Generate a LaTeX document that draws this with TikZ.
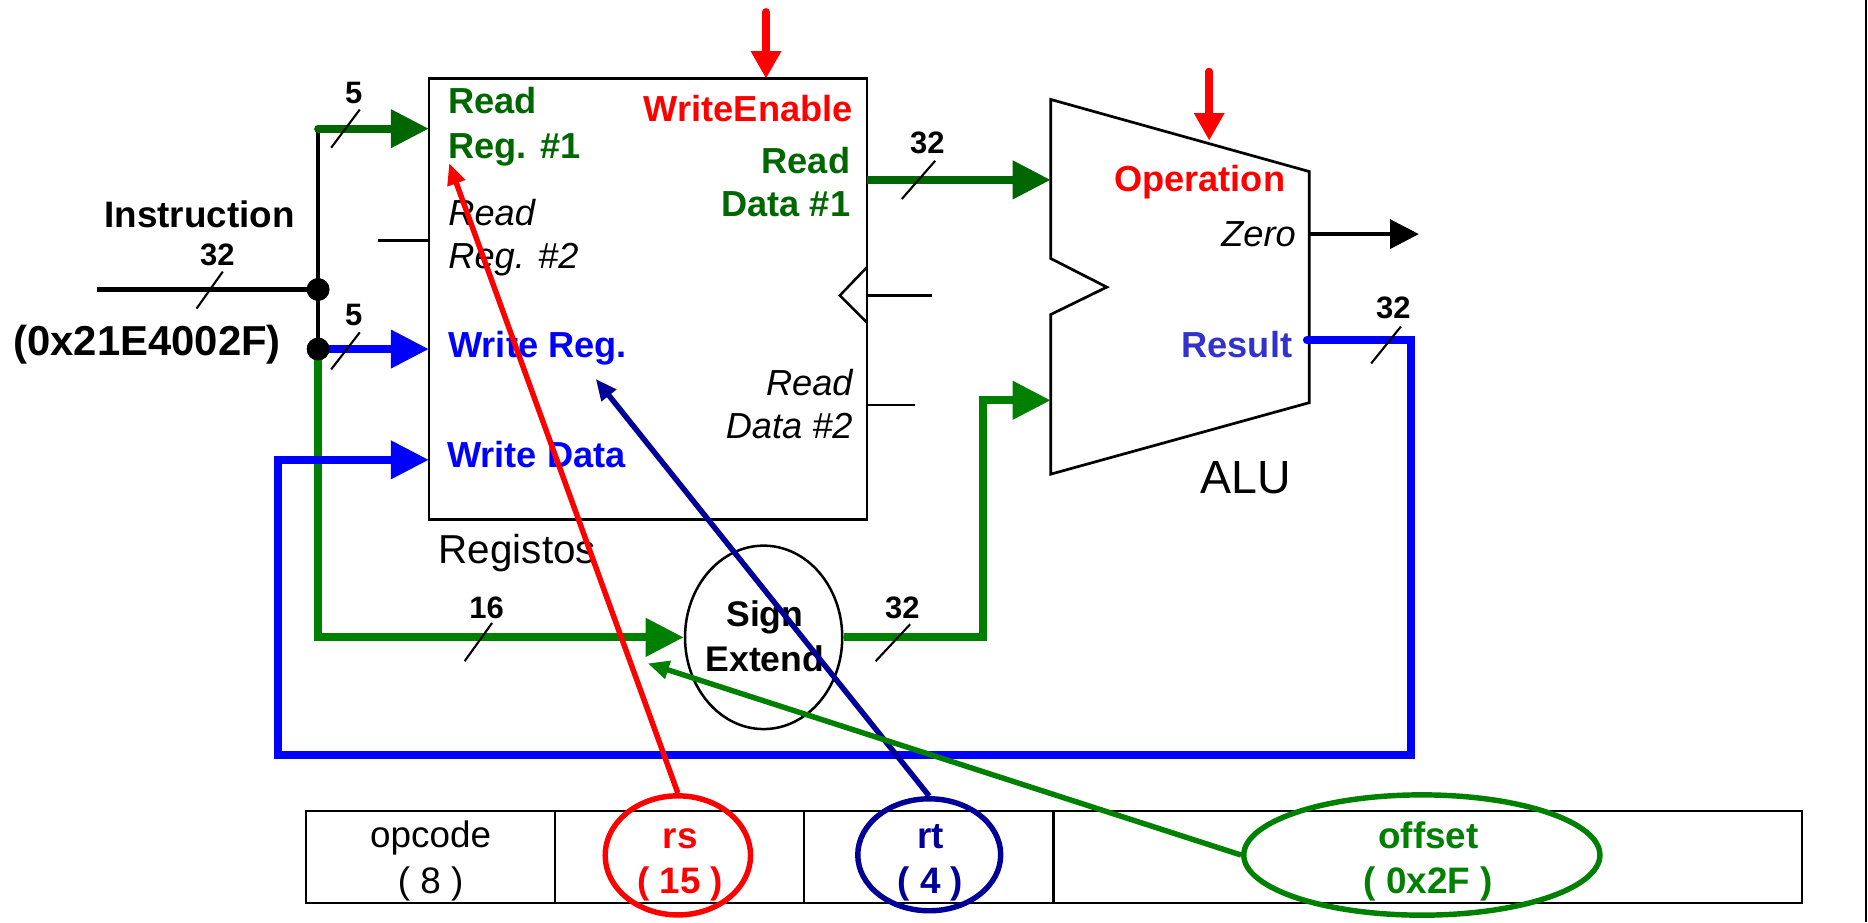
\documentclass[tikz,border=0pt]{standalone}
\usepackage{fontspec}
\setmainfont{Liberation Sans}
\usetikzlibrary{arrows.meta,shapes.geometric}
\newcommand\fsz[1]{\fontsize{#1}{#1}\selectfont}
\definecolor{dkgreen}{RGB}{0,102,0}
\definecolor{mgreen}{RGB}{0,128,0}
\definecolor{pblue}{RGB}{0,0,255}
\definecolor{resblue}{RGB}{51,51,204}
\definecolor{navyb}{RGB}{0,0,153}
\definecolor{pred}{RGB}{255,0,0}
\begin{document}
\begin{tikzpicture}[x=0.02cm,y=-0.02cm,
 lbl/.style={inner sep=0pt, font=\fsz{17.3}\bfseries},
 lbli/.style={inner sep=0pt, font=\fsz{17.3}\itshape},
 bwl/.style={inner sep=0pt, font=\fsz{14.8}\bfseries},
 tbl/.style={inner sep=0pt, font=\fsz{17.6}\bfseries},
 bus/.style={line width=3.8pt, line join=miter},
 bushead/.style={-{Triangle[length=18.2pt,width=17.6pt]}},
 ctlhead/.style={-{Triangle[length=13.1pt,width=13.7pt]}},
 diaghead/.style={-{Triangle[length=10.2pt,width=8.5pt]}},
 slashln/.style={line width=1pt},
 stub/.style={line width=1.2pt},
 fld/.style={draw, ellipse, inner sep=0pt, line width=2.6pt},
 junc/.style={circle, fill=black, inner sep=0pt, minimum size=0.38cm},
]
\useasboundingbox (0,0) rectangle (1568,774);

% ---------- register file ----------
\node[draw, line width=1.2pt, minimum width=7.36cm, minimum height=7.4cm,
      inner sep=0pt, outer sep=0pt, anchor=north west] (reg) at (360,66) {};
\node[lbl, dkgreen, anchor=base west] (rr1a) at (376,95) {Read};
\node[lbl, dkgreen, anchor=base west] (rr1b) at (376,133) {Reg. \#1};
\node[lbli, anchor=base west] (rr2a) at (376,189) {Read};
\node[lbli, anchor=base west] (rr2b) at (376,225) {Reg. \#2};
\node[lbl, pblue, anchor=base west] (wrt) at (376,300) {Write Reg.};
\node[lbl, pblue, anchor=base west] (wdt) at (375,392) {Write Data};
\node[lbl, pred, anchor=base east] (wet) at (716,102) {WriteEnable};
\node[lbl, dkgreen, anchor=base east] (rd1a) at (714,146) {Read};
\node[lbl, dkgreen, anchor=base east] (rd1b) at (714,182) {Data \#1};
\node[lbli, anchor=base east] (rd2a) at (716,332) {Read};
\node[lbli, anchor=base east] (rd2b) at (716,368) {Data \#2};
\node[inner sep=0pt, font=\fsz{19.3}, anchor=base west] (regname) at (368,473) {Registos};

% stubs and clock
\draw[stub] (317,202) -- (360,202);
\draw[stub] (728,248) -- (782,248);
\draw[stub] (728,340) -- (768,340);
\draw[stub] (728,224) -- (705,248) -- (728,271);

% ---------- ALU ----------
\coordinate (a1) at (882,83.5);
\coordinate (a2) at (1099,144);
\coordinate (a3) at (1099,338);
\coordinate (a4) at (882,398);
\coordinate (a5) at (882,264);
\coordinate (a6) at (929,241);
\coordinate (a7) at (882,217);
\draw[line width=1.3pt, line join=miter] (a1) -- (a2) -- (a3) -- (a4) -- (a5) -- (a6) -- (a7) -- cycle;
\node[lbl, pred, anchor=base] (opt) at (1007,161) {Operation};
\node[lbli, anchor=base east] (zt) at (1088,207) {Zero};
\node[lbl, resblue, anchor=base east] (rest) at (1085,300) {Result};
\node[inner sep=0pt, font=\fsz{22.2}, anchor=base] (alut) at (1045.5,414.5) {ALU};

% ---------- sign extend ----------
\node[draw, ellipse, minimum width=2.64cm, minimum height=3.08cm, inner sep=0pt,
      line width=1.2pt] (se) at (641,535) {};
\node[lbl, font=\fsz{17}\bfseries, anchor=base] (sgt) at (642,526) {Sign};
\node[lbl, font=\fsz{17}\bfseries, anchor=base] (ext) at (642,564) {Extend};

% ---------- instruction input ----------
\node[inner sep=0pt, font=\fsz{17.6}\bfseries, anchor=base] (instr) at (167.5,191) {Instruction};
\node[inner sep=0pt, font=\fsz{20}\bfseries, anchor=base] (hex) at (123.5,298) {(0x21E4002F)};
\coordinate (instrL) at (81.5,243);
\coordinate (jtop) at (267,108);
\node[junc] (j1) at (267,243) {};
\node[junc] (j2) at (267,293) {};

% port coordinates
\coordinate (rr1) at (360,108);
\coordinate (wr) at (360,293);
\coordinate (wd) at (360,386);
\coordinate (rd1) at (728,151);
\coordinate (aluin1) at (882,151);
\coordinate (aluin2) at (882,336);
\coordinate (sgcorner) at (825,336);
\coordinate (zero) at (1099,196.5);
\coordinate (zeroend) at (1191,196.5);
\coordinate (res) at (1097,285.5);
\coordinate (bR) at (1184,634);
\coordinate (bL) at (233,386);

% ---------- buses ----------
\draw[line width=2pt] (instrL) -- (j1.center);
\draw[line width=2pt] (jtop) -- (j2.center);
\draw[bus, bushead, dkgreen, line cap=round] (jtop) -- (rr1);
\draw[bus, bushead, pblue] (j2.center) -- (wr);
\draw[bus, bushead, mgreen] (j2.center) |- (se.west);
\draw[bus, bushead, pblue, line cap=round] (res) -| (bR) -| (bL) -- (wd);
\draw[bus, bushead, mgreen] (se.east) -| (sgcorner) -- (aluin2);
\draw[bus, bushead, dkgreen] (rd1) -- (aluin1);
\draw[line width=2pt, -{Triangle[length=13.7pt,width=13.7pt]}] (zero) -- (zeroend);
\node[junc] at (j1) {};
\node[junc] at (j2) {};

% control arrows
\coordinate (weTop) at (643,10);
\coordinate (weTip) at (643,66);
\coordinate (opTop) at (1015,60);
\coordinate (opTip) at (1015,118);
\draw[pred, line width=3.6pt, ctlhead, line cap=round] (weTop) -- (weTip);
\draw[pred, line width=3.6pt, ctlhead, line cap=round] (opTop) -- (opTip);

% bus width labels and slashes
\node[bwl, anchor=base] (w5a) at (297,87) {5};
\draw[slashln] (302,92) -- (278,124);
\node[bwl, anchor=base] (w32a) at (182.5,223) {32};
\draw[slashln] (187,228) -- (165,259);
\node[bwl, anchor=base] (w5b) at (297,273) {5};
\draw[slashln] (302,279) -- (278,310);
\node[bwl, anchor=base] (w16) at (408.5,519) {16};
\draw[slashln] (413,523) -- (390,555);
\node[bwl, anchor=base] (w32b) at (757.5,519) {32};
\draw[slashln] (764,524) -- (735,555);
\node[bwl, anchor=base] (w32c) at (778.5,129) {32};
\draw[slashln] (785,135) -- (757,167);
\node[bwl, anchor=base] (w32d) at (1169.5,267) {32};
\draw[slashln] (1176,274) -- (1151,305);

% ---------- instruction format ----------
\node[draw, line width=1.2pt, minimum width=25.12cm, minimum height=1.548cm,
      inner sep=0pt, outer sep=0pt, anchor=north west] (tab) at (257,680.6) {};
\draw[line width=1.2pt] (466,680.6) -- (466,758);
\draw[line width=1.2pt] (675,680.6) -- (675,758);
\draw[line width=1.2pt] (884.5,680.6) -- (884.5,758);
\node[inner sep=0pt, font=\fsz{17.6}, anchor=base] (opc) at (361.5,711) {opcode};
\node[inner sep=0pt, font=\fsz{17.6}, anchor=base] (opv) at (361.5,750) {( 8 )};
\node[tbl, pred, anchor=base] (rst) at (571,712) {rs};
\node[tbl, pred, anchor=base] (rsv) at (571,750) {( 15 )};
\node[tbl, navyb, anchor=base] (rtt) at (781,712) {rt};
\node[tbl, navyb, anchor=base] (rtv) at (781,750) {( 4 )};
\node[tbl, mgreen, anchor=base] (oft) at (1199,712) {offset};
\node[tbl, mgreen, anchor=base] (ofv) at (1199,750) {( 0x2F )};

\node[fld, pred, minimum width=2.44cm, minimum height=2.0cm] (rsell) at (569,718) {};
\node[fld, navyb, minimum width=2.4cm, minimum height=1.88cm] (rtell) at (780,717.5) {};
\node[fld, mgreen, minimum width=5.98cm, minimum height=2.02cm] (offell) at (1193.5,717.7) {};

% ---------- field pointers ----------
\coordinate (rr1tip) at (377,137);
\coordinate (wrtip) at (500,318);
\coordinate (setip) at (543.7,556.8);
\draw[pred, line width=2.6pt, diaghead] (rsell.north) -- (rr1tip);
\draw[navyb, line width=2.6pt, diaghead] (rtell.north) -- (wrtip);
\draw[mgreen, line width=2.6pt, diaghead] (offell.west) -- (setip);

% right border
\draw[line width=1pt] (1566.5,0) -- (1566.5,774);
\end{tikzpicture}
\end{document}
